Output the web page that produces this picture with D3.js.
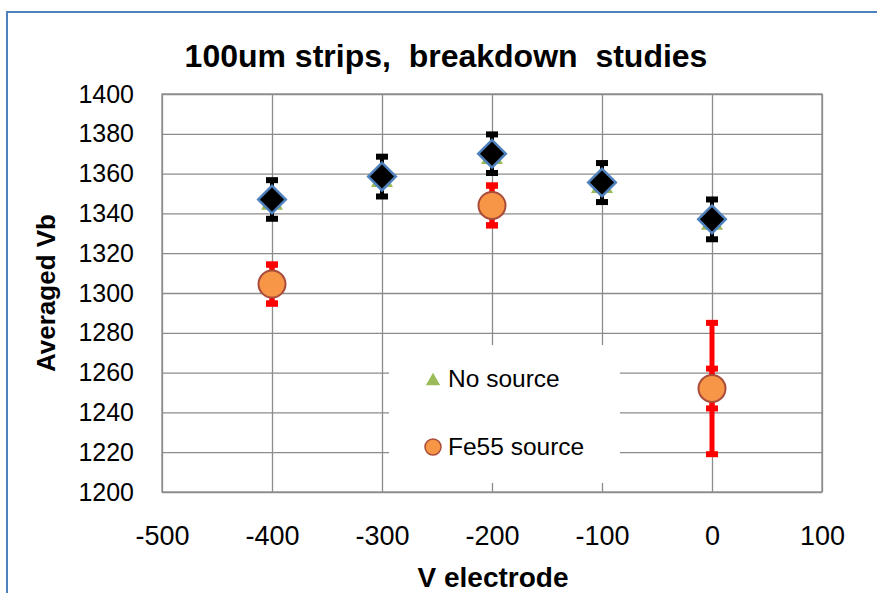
<!DOCTYPE html>
<html>
<head>
<meta charset="utf-8">
<script src="https://cdn.jsdelivr.net/npm/d3@7"></script>
<style>
  body { margin: 0; background: #fff; }
  svg { display: block; }
  text { font-family: "Liberation Sans", Arial, sans-serif; fill: #000; }
</style>
</head>
<body>
<div id="chart"></div>
<script>
// chart data
var xTicks = [-500, -400, -300, -200, -100, 0, 100];
var yTicks = [1200, 1220, 1240, 1260, 1280, 1300, 1320, 1340, 1360, 1380, 1400];

var vElectrode = [-400, -300, -200, -100, 0];
var noSource = [1347, 1358.5, 1370, 1355.5, 1337];
var noSourceErr = [9.7, 10, 9.7, 9.8, 10];

var feElectrode = [-400, -200, 0];
var fe55 = [1304.5, 1344, 1252];
var fe55Err = [9.8, 10, 10];
var fe55ErrWide = [9.8, 10, 33];

var width = 877, height = 593;
var plotLeft = 162, plotRight = 822, plotTop = 94, plotBottom = 492;

var svg = d3.select('#chart')
  .append('svg')
  .attr('width', width)
  .attr('height', height);

// outer chart frame
svg.append('rect')
  .attr('x', 7)
  .attr('y', 12)
  .attr('width', 1000)
  .attr('height', 1000)
  .style('fill', '#fff')
  .style('stroke', '#4f81bd')
  .style('stroke-width', 2);

var x = d3.scaleLinear().domain([-500, 100]).range([plotLeft, plotRight]);
var y = d3.scaleLinear().domain([1200, 1400]).range([plotBottom, plotTop]);
var fmt = function(d) { return String(d); };

// grid lines
svg.append('g')
  .attr('transform', 'translate(' + plotLeft + ',0)')
  .call(d3.axisLeft(y).tickValues(yTicks).tickSize(-(plotRight - plotLeft)).tickFormat(''));
svg.append('g')
  .attr('transform', 'translate(0,' + plotBottom + ')')
  .call(d3.axisBottom(x).tickValues(xTicks).tickSize(-(plotBottom - plotTop)).tickFormat(''));
svg.selectAll('.tick line').style('stroke', '#8c8c8c').style('stroke-width', 1.3);
svg.selectAll('.domain').remove();

svg.append('rect')
  .attr('x', plotLeft)
  .attr('y', plotTop)
  .attr('width', plotRight - plotLeft)
  .attr('height', plotBottom - plotTop)
  .style('fill', 'none')
  .style('stroke', '#8c8c8c')
  .style('stroke-width', 1.3);

// tick labels
var yAxis = svg.append('g')
  .attr('transform', 'translate(' + plotLeft + ',0)')
  .call(d3.axisLeft(y).tickValues(yTicks).tickSize(0).tickPadding(28).tickFormat(fmt));
yAxis.selectAll('text').style('font-size', '25px').style('font-family', '"Liberation Sans", Arial, sans-serif');
var xAxis = svg.append('g')
  .attr('transform', 'translate(0,' + plotBottom + ')')
  .call(d3.axisBottom(x).tickValues(xTicks).tickSize(0).tickPadding(45).tickFormat(fmt));
xAxis.selectAll('text').style('font-size', '27px').style('font-family', '"Liberation Sans", Arial, sans-serif')
  .attr('dy', '0.3em');
svg.selectAll('.domain').remove();

// legend box (covers the grid)
svg.append('rect')
  .attr('x', 389)
  .attr('y', 345)
  .attr('width', 231)
  .attr('height', 138)
  .style('fill', '#fff');

// titles
svg.append('text')
  .attr('x', 446)
  .attr('y', 67)
  .attr('text-anchor', 'middle')
  .style('font-size', '32px')
  .style('font-weight', 'bold')
  .style('white-space', 'pre')
  .text('100um strips,  breakdown  studies');

svg.append('text')
  .attr('x', 493)
  .attr('y', 587)
  .attr('text-anchor', 'middle')
  .style('font-size', '28px')
  .style('font-weight', 'bold')
  .text('V electrode');

svg.append('text')
  .attr('transform', 'translate(55,' + ((plotTop + plotBottom) / 2) + ') rotate(-90)')
  .attr('text-anchor', 'middle')
  .style('font-size', '26px')
  .style('font-weight', 'bold')
  .text('Averaged Vb');

// error bars
function errorBars(xs, vals, errs, color, lw, capH) {
  var g = svg.append('g');
  g.selectAll('line')
    .data(vals)
    .enter().append('line')
    .attr('x1', function(d, i) { return x(xs[i]); })
    .attr('x2', function(d, i) { return x(xs[i]); })
    .attr('y1', function(d, i) { return y(d - errs[i]); })
    .attr('y2', function(d, i) { return y(d + errs[i]); })
    .style('stroke', color)
    .style('stroke-width', lw);
  [-1, 1].forEach(function(s) {
    g.selectAll('rect.c' + (s + 1))
      .data(vals)
      .enter().append('rect')
      .attr('class', 'c' + (s + 1))
      .attr('x', function(d, i) { return x(xs[i]) - 6; })
      .attr('y', function(d, i) { return y(d + s * errs[i]) - capH / 2; })
      .attr('width', 12)
      .attr('height', capH)
      .style('fill', color);
  });
}

// no source: green triangles under black diamonds
svg.append('g').selectAll('path')
  .data(noSource)
  .enter().append('path')
  .attr('d', d3.symbol().type(d3.symbolTriangle).size(210))
  .attr('transform', function(d, i) { return 'translate(' + x(vElectrode[i]) + ',' + (y(d) + 4) + ')'; })
  .style('fill', '#9bbb59');

errorBars(vElectrode, noSource, noSourceErr, '#000', 4, 6);

svg.append('g').selectAll('path')
  .data(noSource)
  .enter().append('path')
  .attr('d', d3.symbol().type(d3.symbolSquare).size(380))
  .attr('transform', function(d, i) { return 'translate(' + x(vElectrode[i]) + ',' + y(d) + ') rotate(45)'; })
  .style('fill', '#000')
  .style('stroke', '#4f81bd')
  .style('stroke-width', 2.5);

// Fe55 source
errorBars(feElectrode, fe55, fe55ErrWide, '#ff0000', 5, 6);
errorBars(feElectrode, fe55, fe55Err, '#ff0000', 5, 6);

svg.append('g').selectAll('circle')
  .data(fe55)
  .enter().append('circle')
  .attr('cx', function(d, i) { return x(feElectrode[i]); })
  .attr('cy', function(d) { return y(d); })
  .attr('r', 13.5)
  .style('fill', '#f79646')
  .style('stroke', '#a94c3b')
  .style('stroke-width', 2);

// legend
svg.append('path')
  .attr('d', d3.symbol().type(d3.symbolTriangle).size(90))
  .attr('transform', 'translate(433,381)')
  .style('fill', '#9bbb59');
svg.append('text')
  .attr('x', 448)
  .attr('y', 387)
  .style('font-size', '24.5px')
  .text('No source');

svg.append('circle')
  .attr('cx', 433)
  .attr('cy', 447)
  .attr('r', 8)
  .style('fill', '#f79646')
  .style('stroke', '#a94c3b')
  .style('stroke-width', 1.5);
svg.append('text')
  .attr('x', 448)
  .attr('y', 455)
  .style('font-size', '24.5px')
  .text('Fe55 source');
</script>
</body>
</html>
